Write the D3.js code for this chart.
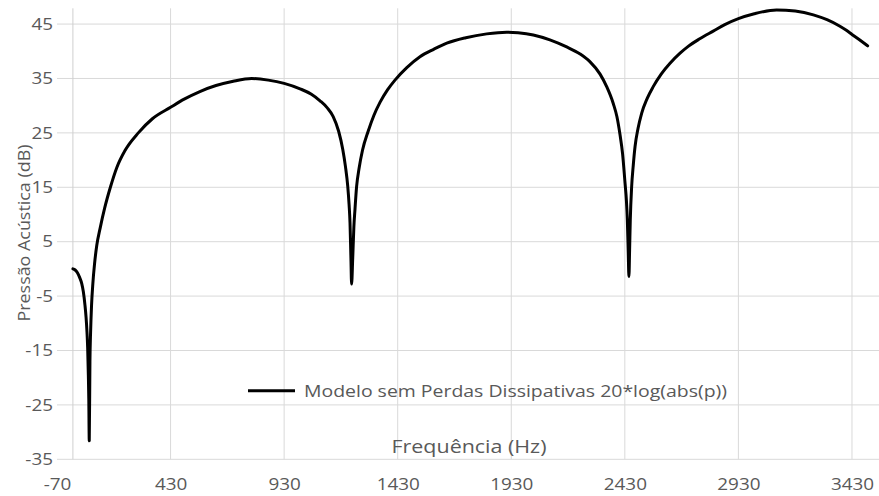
<!DOCTYPE html>
<html><head><meta charset="utf-8">
<script src="https://cdn.jsdelivr.net/npm/d3@7"></script>
<style>body{margin:0;background:#fff}svg{display:block}</style>
</head><body><svg id="c" width="879" height="496"></svg>
<script>
const freqHz = [0,10,20,30,39,46,53,58,62,65,68,70,72,75,78,82,88,95,105,120,140,165,193,230,288,350,430,490,559,630,706,787,860,930,1000,1050,1088,1120,1146,1170,1188,1200,1210,1216,1220,1224,1227,1232,1237,1242,1249,1260,1275,1300,1325,1352,1385,1418,1470,1528,1590,1646,1730,1822,1910,1960,2027,2100,2174,2233,2276,2321,2350,2379,2395,2409,2420,2431,2437,2441,2445,2448,2451,2454,2460,2467,2475,2488,2504,2528,2555,2590,2629,2672,2709,2760,2819,2870,2930,3000,3098,3180,3260,3320,3377,3407,3430,3460,3499];
const pressureDb = [0.0,-0.2,-0.7,-1.6,-2.7,-4.2,-6.6,-8.9,-11.6,-14.5,-19.5,-24.0,-31.6,-17.0,-11.5,-6.8,-2.6,0.8,4.3,7.5,11.2,15.0,18.6,21.8,25.0,27.6,29.7,31.2,32.6,33.7,34.5,35.0,34.7,34.1,33.1,32.1,30.9,29.6,28.0,25.3,22.0,18.8,15.2,11.8,8.5,2.0,-2.8,2.0,7.7,11.0,15.1,18.5,21.8,25.3,28.2,30.6,32.9,34.7,37.0,39.0,40.4,41.5,42.5,43.2,43.5,43.4,43.0,42.1,40.8,39.5,38.1,35.8,33.5,30.4,28.0,24.6,21.2,15.7,12.5,9.0,3.0,-1.4,3.5,9.0,15.1,19.0,22.5,25.8,28.6,31.3,33.5,35.8,37.8,39.6,40.9,42.3,43.7,44.9,46.0,46.9,47.6,47.4,46.7,45.8,44.6,43.8,43.1,42.2,41.0];
const xTicks = [-70,430,930,1430,1930,2430,2930,3430];
const yTicks = [-35,-25,-15,-5,5,15,25,35,45];
const seriesName = "Modelo sem Perdas Dissipativas 20*log(abs(p))";
const xTitle = "Frequência (Hz)";
const yTitle = "Pressão Acústica (dB)";

const svg = d3.select("#c");
const x = d3.scaleLinear().domain([-70, 3549]).range([57, 879]);
const y = d3.scaleLinear().domain([-35, 47.9]).range([459.3, 8.3]);
const txt = "#595959", grid = "#d9d9d9";
const font = "'Open Sans', sans-serif";

// gridlines
svg.append("g").selectAll("line").data(yTicks).join("line")
  .attr("x1", x(-70)).attr("x2", 879).attr("y1", d => y(d)).attr("y2", d => y(d))
  .attr("stroke", grid).attr("stroke-width", 1);
svg.append("g").selectAll("line").data(xTicks.filter(d => d > -70).concat([0])).join("line")
  .attr("x1", d => x(d)).attr("x2", d => x(d)).attr("y1", y(47.9)).attr("y2", y(-35))
  .attr("stroke", d => d === 0 ? "#cfcfcf" : grid).attr("stroke-width", 1);

// axes labels
const fmt = d => String(d);
const yAxis = svg.append("g").attr("transform", `translate(${x(-70)},0)`)
  .call(d3.axisLeft(y).tickValues(yTicks).tickSize(0).tickPadding(4).tickFormat(fmt));
yAxis.select(".domain").remove();
yAxis.selectAll("text").attr("fill", txt).style("font-family", font).style("font-size", "16px");

const xAxis = svg.append("g").attr("transform", `translate(0,${y(-35)})`)
  .call(d3.axisBottom(x).tickValues(xTicks).tickSize(0).tickPadding(19).tickFormat(fmt));
xAxis.select(".domain").remove();
xAxis.selectAll("text").attr("fill", txt).style("font-family", font).style("font-size", "16px");

// stretch tick labels horizontally like the reference
svg.selectAll(".tick text").each(function(){
  const l = this.getComputedTextLength();
  d3.select(this).attr("textLength", l * 1.18).attr("lengthAdjust", "spacingAndGlyphs");
});

// series
const pts = freqHz.map((f, i) => [f, pressureDb[i]]);
svg.append("path").datum(pts)
  .attr("fill", "none").attr("stroke", "#000").attr("stroke-width", 3)
  .attr("stroke-linejoin", "round").attr("stroke-linecap", "round")
  .attr("d", d3.line().x(d => x(d[0])).y(d => y(d[1])).curve(d3.curveMonotoneX));

// legend
svg.append("line").attr("x1", 248).attr("x2", 295).attr("y1", 390.7).attr("y2", 390.7)
  .attr("stroke", "#000").attr("stroke-width", 3);
svg.append("text").attr("x", 304).attr("y", 397).text(seriesName)
  .attr("fill", txt).style("font-family", font).style("font-size", "16px")
  .attr("textLength", 423).attr("lengthAdjust", "spacingAndGlyphs");

// axis titles
svg.append("text").attr("x", 469).attr("y", 453).attr("text-anchor", "middle").text(xTitle)
  .attr("fill", txt).style("font-family", font).style("font-size", "19px")
  .attr("textLength", 155).attr("lengthAdjust", "spacingAndGlyphs");
svg.append("text").attr("transform", "translate(30,233) rotate(-90)").attr("text-anchor", "middle").text(yTitle)
  .attr("fill", txt).style("font-family", font).style("font-size", "17px")
  .attr("textLength", 177).attr("lengthAdjust", "spacingAndGlyphs");
</script></body></html>
